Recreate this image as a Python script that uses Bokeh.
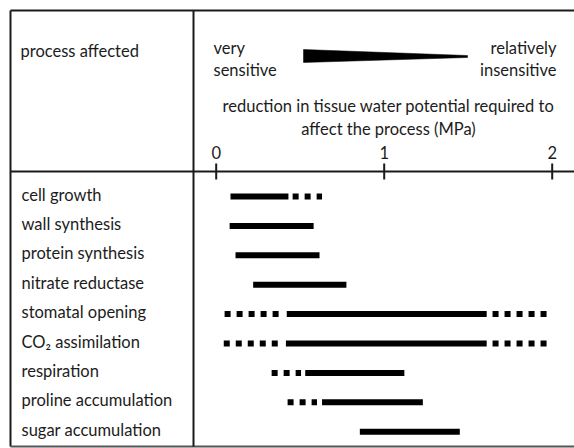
import numpy as np
from bokeh.plotting import figure
from bokeh.models import Range1d, ColumnDataSource
from bokeh.core.properties import value
from bokeh.embed import file_html
from bokeh.resources import INLINE

# ---------------- data ----------------
processes = ["cell growth", "wall synthesis", "protein synthesis", "nitrate reductase",
             "stomatal opening", "CO\u2082 assimilation", "respiration",
             "proline accumulation", "sugar accumulation"]
# solid bar extents (reduction in tissue water potential, MPa)
solid_start = [0.085, 0.08, 0.115, 0.22, 0.42, 0.415, 0.53, 0.63, 0.855]
solid_end = [0.43, 0.58, 0.615, 0.775, 1.61, 1.61, 1.12, 1.23, 1.45]
# dotted (uncertain) extents
dotted_process = ["cell growth", "stomatal opening", "stomatal opening",
                  "CO\u2082 assimilation", "CO\u2082 assimilation",
                  "respiration", "proline accumulation"]
dotted_start = [0.455, 0.05, 1.645, 0.045, 1.645, 0.33, 0.425]
dotted_end = [0.63, 0.375, 1.97, 0.37, 1.97, 0.505, 0.60]
tick_values = [0, 1, 2]
tick_labels = ["0", "1", "2"]

# ---------------- layout helpers (page pixels -> data) ----------------
X0, SX = 215.7, 168.0      # page x of 0 MPa, px per MPa
Y0, SY = 196.0, 29.4       # page y of first row, px per row
def fx(px):
    return (px - X0) / SX
def fy(py):
    return (py - Y0) / SY

W, H = 574, 448
p = figure(width=W, height=H, output_backend="svg", toolbar_location=None,
           x_range=Range1d(fx(0), fx(W)), y_range=Range1d(fy(H), fy(0)),
           x_axis_location=None, y_axis_location=None, min_border=0)
p.grid.visible = False
p.outline_line_color = None
p.background_fill_color = "white"
p.border_fill_color = "white"

FONT = value("Lato")
FS = value("16.5px")
TC = "#1c1c1c"

# ---------------- table borders ----------------
L, T, B, R, DIV, HL = 10, 10, 446, 580, 193, 171
p.segment(x0=[fx(L), fx(L), fx(L)], y0=[fy(T), fy(T), fy(HL)],
          x1=[fx(R), fx(L), fx(R)], y1=[fy(T), fy(B), fy(HL)],
          line_color="#1a1a1a", line_width=2)
p.segment(x0=[fx(L)], y0=[fy(B)], x1=[fx(R)], y1=[fy(B)],
          line_color="#555555", line_width=2)
p.segment(x0=[fx(DIV)], y0=[fy(T)], x1=[fx(DIV)], y1=[fy(B)],
          line_color="#1a1a1a", line_width=2)

# ---------------- axis ticks ----------------
p.segment(x0=tick_values, x1=tick_values, y0=[fy(163)] * 3, y1=[fy(179)] * 3,
          line_color="#1a1a1a", line_width=2)
p.text(x=tick_values, y=[fy(152)] * 3, text=tick_labels, text_font=FONT,
       text_font_size=FS, text_color=TC, text_align="center", text_baseline="middle")

# ---------------- header ----------------
p.text(x=[fx(20)], y=[fy(50)], text=["process affected"], text_font=FONT,
       text_font_size=FS, text_color=TC, text_align="left", text_baseline="middle")
p.text(x=[fx(213), fx(213)], y=[fy(47), fy(69)], text=["very", "sensitive"],
       text_font=FONT, text_font_size=FS, text_color=TC,
       text_align="left", text_baseline="middle")
p.text(x=[fx(556), fx(556)], y=[fy(47), fy(69)], text=["relatively", "insensitive"],
       text_font=FONT, text_font_size=FS, text_color=TC,
       text_align="right", text_baseline="middle")
p.patch(x=[fx(303), fx(467), fx(467), fx(303)], y=[fy(49), fy(55), fy(57), fy(62)],
        fill_color="black", line_color="black", line_width=0.5)
p.text(x=[fx(388), fx(388)], y=[fy(105), fy(128)],
       text=["reduction in tissue water potential required to",
             "affect the process (MPa)"],
       text_font=FONT, text_font_size=FS, text_color=TC,
       text_align="center", text_baseline="middle")

# ---------------- rows ----------------
rows = list(range(len(processes)))
row_of = {name: i for i, name in enumerate(processes)}
p.text(x=[fx(21)] * len(processes), y=[r - 2 / SY for r in rows], text=processes,
       text_font=FONT, text_font_size=FS, text_color=TC,
       text_align="left", text_baseline="middle")

solid = ColumnDataSource(dict(y=rows, x0=solid_start, x1=solid_end))
p.segment(x0="x0", x1="x1", y0="y", y1="y", source=solid,
          line_color="black", line_width=6, line_cap="butt")

dotted = ColumnDataSource(dict(y=[row_of[n] for n in dotted_process],
                               x0=dotted_start, x1=dotted_end))
p.segment(x0="x0", x1="x1", y0="y", y1="y", source=dotted,
          line_color="black", line_width=6, line_cap="butt", line_dash="6 6")

open("out.html", "w").write(file_html(p, INLINE))
